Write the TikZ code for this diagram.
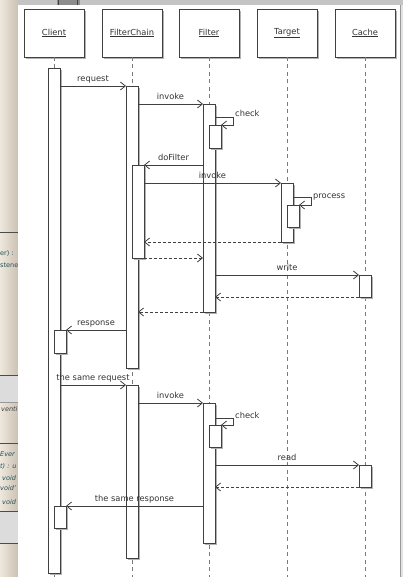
\documentclass[tikz,border=0pt]{standalone}
\usepackage{fontspec}
\setmainfont{DejaVu Sans}
\usetikzlibrary{arrows.meta,shadows}
\definecolor{lc}{HTML}{404040}
\definecolor{txt}{HTML}{333333}
\definecolor{lifec}{HTML}{7A7A7A}
\definecolor{stripL}{HTML}{EEE7DC}
\definecolor{stripR}{HTML}{CBC2B4}
\definecolor{bandc}{HTML}{DCDCDC}
\definecolor{topc}{HTML}{C4C4C4}
\definecolor{tealc}{HTML}{24505A}
\definecolor{edgec}{HTML}{E2E2E2}
\begin{document}
\begin{tikzpicture}[x=1pt,y=-1pt,font=\fontsize{8.3}{10}\selectfont,
  head/.style={draw=lc,fill=white,minimum width=60pt,minimum height=48pt,inner sep=0pt,outer sep=0pt,line width=0.8pt,text=txt,
    drop shadow={shadow xshift=2pt,shadow yshift=-2pt,fill=black!30,opacity=1}},
  barbox/.style={draw=lc,fill=white,minimum width=12pt,inner sep=0pt,outer sep=0pt,line width=0.8pt,anchor=north west,
    drop shadow={shadow xshift=2pt,shadow yshift=-2pt,fill=black!30,opacity=1}},
  life/.style={draw=lifec,line width=0.9pt,dash pattern=on 4pt off 3.5pt},
  msg/.style={draw=lc,line width=0.8pt,-{Straight Barb[length=5pt,width=8pt]}},
  ret/.style={msg,dash pattern=on 3pt off 2pt},
  lbl/.style={anchor=base,yshift=4.5pt,text=txt,inner sep=0pt},
  slbl/.style={anchor=base west,text=txt,inner sep=0pt,xshift=2pt},
  frag/.style={anchor=base west,inner sep=0pt,font=\fontsize{6.5}{8}\selectfont\itshape}]
\useasboundingbox (0,0) rectangle (403,577);
% ---- background (window behind) ----
\fill[white] (0,0) rectangle (403,577);
\shade[left color=stripL,right color=stripR] (0,0) rectangle (18,577);
\fill[topc] (18,0) rectangle (403,5);
\fill[black!45] (57,0) rectangle (80,5);
\draw[black!75,line width=1pt] (58.5,0) -- (58.5,5) (77.5,0) -- (77.5,5);
\fill[bandc] (0,375) rectangle (18,402);
\fill[bandc] (0,511) rectangle (18,543);
\draw[black!70,line width=1pt] (0,232) -- (18,232) (0,375) -- (18,375) (0,443) -- (18,443) (0,511) -- (18,511) (0,543) -- (18,543);
\draw[black!40,line width=0.6pt] (0,402) -- (18,402);
\begin{scope}
\clip (0,0) rectangle (18,577);
\node[frag,text=tealc,font=\fontsize{6.5}{8}\selectfont] (f1) at (0,255) {er) :};
\node[frag,text=tealc,font=\fontsize{6.5}{8}\selectfont] (f2) at (0,267) {stene};
\node[frag,text=black!75] (f3) at (1,411) {venti};
\node[frag,text=tealc] (f4) at (0,456) {Ever};
\node[frag,text=tealc] (f5) at (0,468) {t) : u};
\node[frag,text=tealc] (f6) at (2,480) {void};
\node[frag,text=tealc] (f7) at (0,490) {void'};
\node[frag,text=tealc] (f8) at (2,504) {void};
\end{scope}
\fill[white] (18,5) rectangle (400,577);
\fill[edgec] (400,5) rectangle (403,577);
\draw[black!40,line width=1pt] (400.5,5) -- (400.5,577);
% ---- heads ----
\node[head] (hc) at (54,33) {\underline{Client}};
\node[head] (hf) at (132,33) {\underline{FilterChain}};
\node[head] (hi) at (209,33) {\underline{Filter}};
\node[head] (ht) at (287,33) {\underline{Target}};
\node[head] (hk) at (365,33) {\underline{Cache}};
\coordinate (bot) at (0,577);
\foreach \h in {hc,hf,hi,ht,hk} \draw[life] (\h.south) -- (\h.south |- bot);
% ---- activation bars ----
\node[barbox,minimum height=505pt] (cl1) at (48,68) {};
\node[barbox,minimum height=282pt] (fc1) at (126,86) {};
\node[barbox,minimum height=208pt] (fi1) at (203,104) {};
\node[barbox,minimum height=23pt] (fi1c) at (209,125) {};
\node[barbox,minimum height=93pt] (fc1n) at (132,165) {};
\node[barbox,minimum height=59pt] (ta1) at (281,183) {};
\node[barbox,minimum height=22pt] (ta1p) at (287,205) {};
\node[barbox,minimum height=22pt] (ca1) at (359,275) {};
\node[barbox,minimum height=23pt] (cl1r) at (54,330) {};
\node[barbox,minimum height=173pt] (fc2) at (126,385) {};
\node[barbox,minimum height=140pt] (fi2) at (203,403) {};
\node[barbox,minimum height=22pt] (fi2c) at (209,425) {};
\node[barbox,minimum height=22pt] (ca2) at (359,465) {};
\node[barbox,minimum height=22pt] (cl1s) at (54,506) {};
% ---- messages ----
\coordinate (ck1) at (233,117);
\coordinate (pr1) at (311,197);
\coordinate (ck2) at (233,418);
\draw[msg] (cl1.east |- fc1.north) -- node[lbl] {request} (fc1.north west);
\draw[msg] (fc1.east |- fi1.north) -- node[lbl] {invoke} (fi1.north west);
\draw[msg] (fi1.east |- ck1) -- (ck1) |- (fi1c.north east);
\node[slbl] (lck1) at (ck1) {check};
\draw[msg] (fi1.west |- fc1n.north) -- node[lbl] {doFilter} (fc1n.north east);
\draw[msg] (fc1n.east |- ta1.north) -- node[lbl] {invoke} (ta1.north west);
\draw[msg] (ta1.east |- pr1) -- (pr1) |- (ta1p.north east);
\node[slbl,yshift=-1pt] (lpr1) at (pr1) {process};
\draw[ret] (ta1.south west) -- (fc1n.east |- ta1.south);
\draw[ret] (fc1n.south east) -- (fi1.west |- fc1n.south);
\draw[msg] (fi1.east |- ca1.north) -- node[lbl] {write} (ca1.north west);
\draw[ret] (ca1.south west) -- (fi1.east |- ca1.south);
\draw[ret] (fi1.south west) -- (fc1.east |- fi1.south);
\draw[msg] (fc1.west |- cl1r.north) -- node[lbl] {response} (cl1r.north east);
\draw[msg] (cl1.east |- fc2.north) -- node[lbl] {the same request} (fc2.north west);
\draw[msg] (fc2.east |- fi2.north) -- node[lbl] {invoke} (fi2.north west);
\draw[msg] (fi2.east |- ck2) -- (ck2) |- (fi2c.north east);
\node[slbl] (lck2) at (ck2) {check};
\draw[msg] (fi2.east |- ca2.north) -- node[lbl] {read} (ca2.north west);
\draw[ret] (ca2.south west) -- (fi2.east |- ca2.south);
\draw[msg] (fi2.west |- cl1s.north) -- node[lbl] {the same response} (cl1s.north east);
\end{tikzpicture}
\end{document}
